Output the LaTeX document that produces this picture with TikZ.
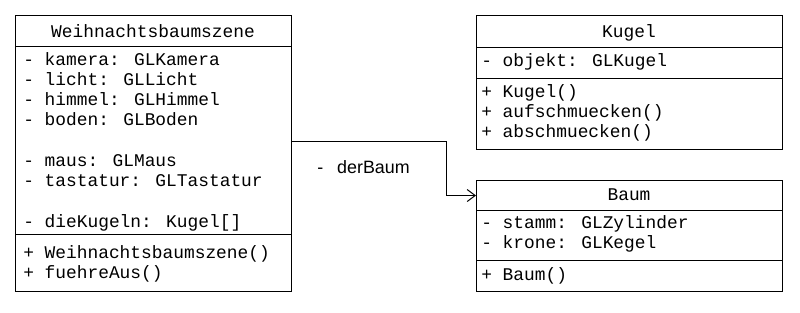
\documentclass[tikz,border=0pt]{standalone}
\usepackage{fontspec}
\newfontfamily\umlmono{Liberation Mono}
\newfontfamily\umlsans{Liberation Sans}
\usetikzlibrary{arrows.meta}
\begin{document}
\begin{tikzpicture}[x=0.75pt,y=-0.75pt,
  box/.style={draw, line width=0.75pt, anchor=north west, inner sep=0pt},
  sep/.style={line width=0.75pt},
  txt/.style={anchor=base west, inner sep=0pt, font=\umlmono\fontsize{13.4pt}{15pt}\selectfont},
  head/.style={anchor=base, inner sep=0pt, font=\umlmono\fontsize{13.4pt}{15pt}\selectfont},
  lbl/.style={anchor=base west, inner sep=0pt, font=\umlsans\fontsize{13.4pt}{15pt}\selectfont},
  assoc/.style={line width=0.75pt, -{Straight Barb[length=6pt,width=9pt,line width=0.75pt]}}]
\useasboundingbox (0,0) rectangle (800,312);
% Weihnachtsbaumszene
\node[box, minimum width=207pt, minimum height=207pt] (W) at (15,15) {};
\draw[sep] (W.west |- 0,46) -- (W.east |- 0,46);
\draw[sep] (W.west |- 0,234) -- (W.east |- 0,234);
\node[head] (Wh) at (153,37) {Weihnachtsbaumszene};
\node[txt] (W1) at (23,65) {- kamera: GLKamera};
\node[txt] (W2) at (23,85.25) {- licht: GLLicht};
\node[txt] (W3) at (23,105.5) {- himmel: GLHimmel};
\node[txt] (W4) at (23,125.75) {- boden: GLBoden};
\node[txt] (W5) at (23,166.25) {- maus: GLMaus};
\node[txt] (W6) at (23,186.5) {- tastatur: GLTastatur};
\node[txt] (W7) at (23,227) {- dieKugeln: Kugel[]};
\node[txt] (W8) at (23,258.3) {+ Weihnachtsbaumszene()};
\node[txt] (W9) at (23,278.5) {+ fuehreAus()};
% Kugel
\node[box, minimum width=229.5pt, minimum height=100.5pt] (K) at (476,15) {};
\draw[sep] (K.west |- 0,47) -- (K.east |- 0,47);
\draw[sep] (K.west |- 0,78) -- (K.east |- 0,78);
\node[head] (Kh) at (629,37) {Kugel};
\node[txt] (K1) at (481,66.7) {- objekt: GLKugel};
\node[txt] (K2) at (481,97.3) {+ Kugel()};
\node[txt] (K3) at (481,117.6) {+ aufschmuecken()};
\node[txt] (K4) at (481,137.9) {+ abschmuecken()};
% Baum
\node[box, minimum width=229.5pt, minimum height=83.25pt] (B) at (476,180) {};
\draw[sep] (B.west |- 0,210) -- (B.east |- 0,210);
\draw[sep] (B.west |- 0,260) -- (B.east |- 0,260);
\node[head] (Bh) at (629,200) {Baum};
\node[txt] (B1) at (481,228.3) {- stamm: GLZylinder};
\node[txt] (B2) at (481,248.5) {- krone: GLKegel};
\node[txt] (B3) at (481,280) {+ Baum()};
% association
\draw[assoc] ([yshift=9pt]W.east) -- ++(154,0) |- ([yshift=30.375pt]B.west);
\node[lbl] (L) at (317,173) {-\hspace{10.5pt}derBaum};
\end{tikzpicture}
\end{document}
